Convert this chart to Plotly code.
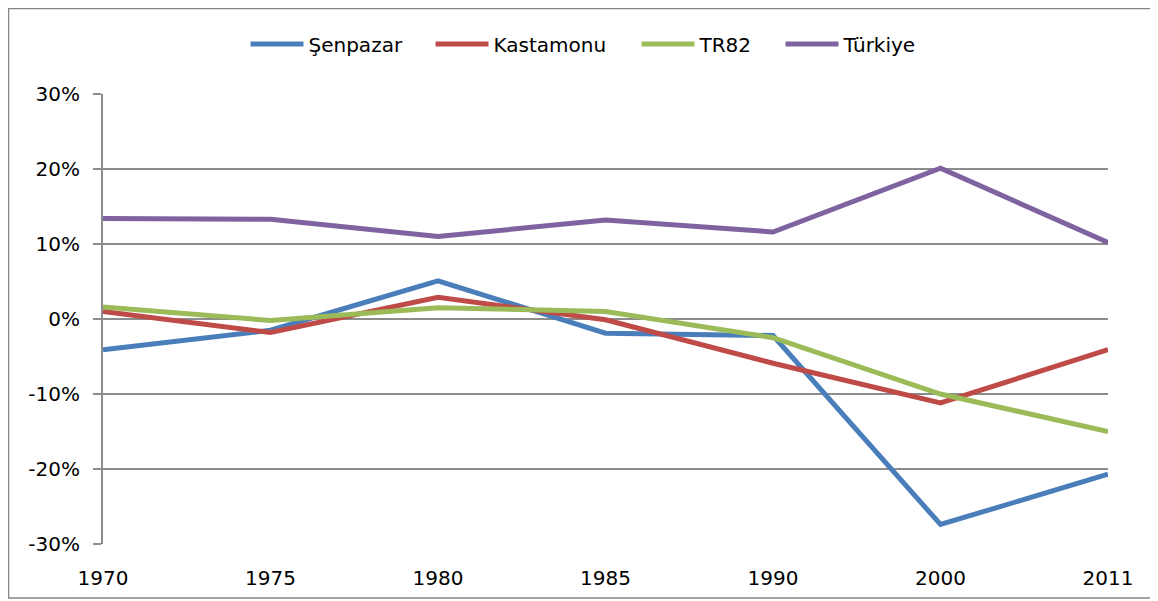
import plotly.graph_objects as go

years = ["1970", "1975", "1980", "1985", "1990", "2000", "2011"]
senpazar = [-0.041, -0.015, 0.051, -0.019, -0.022, -0.274, -0.207]
kastamonu = [0.010, -0.018, 0.029, -0.001, -0.059, -0.112, -0.041]
tr82 = [0.016, -0.002, 0.015, 0.010, -0.025, -0.100, -0.150]
turkiye = [0.134, 0.133, 0.110, 0.132, 0.116, 0.201, 0.102]

y_ticks = [-0.3, -0.2, -0.1, 0.0, 0.1, 0.2, 0.3]
y_labels = ["-30%", "-20%", "-10%", "0%", "10%", "20%", "30%"]

series = [
    ("Şenpazar", senpazar, "#4A7EBB"),
    ("Kastamonu", kastamonu, "#BE4B48"),
    ("TR82", tr82, "#9BBB59"),
    ("Türkiye", turkiye, "#7F62A0"),
]

FONT = "DejaVu Sans"
GRID = "#8C8C8C"

# page body has an 8px margin: shift everything up/left by 8
OFF = 8
W, H = 1158 - OFF, 601 - OFF
L, R, T, B = 103 - OFF, 50, 94 - OFF, 57
pw, ph = W - L - R, H - T - B

legend_names = ["legend", "legend2", "legend3", "legend4"]
legend_starts = [252, 437, 643, 787]  # page x of each legend symbol start
LEG_PAD = 6.5  # internal legend offset before the symbol

fig = go.Figure()
for (name, vals, col), lg in zip(series, legend_names):
    fig.add_trace(go.Scatter(
        x=years, y=vals, name=name, mode="lines", legend=lg,
        line=dict(color=col, width=5),
    ))

layout_legends = {}
for lg, sx in zip(legend_names, legend_starts):
    layout_legends[lg] = dict(
        x=(sx - LEG_PAD - 103) / pw, xanchor="left",
        y=(94 - 44) / ph + 1, yanchor="middle",
        font=dict(family=FONT, size=20), itemwidth=53,
        bgcolor="rgba(0,0,0,0)", borderwidth=0,
    )

fig.update_layout(
    width=W, height=H,
    margin=dict(l=L, r=R, t=T, b=B, autoexpand=False),
    paper_bgcolor="white", plot_bgcolor="white",
    font=dict(family=FONT, size=20, color="black"),
    showlegend=True,
    **layout_legends,
    xaxis=dict(type="category", categoryarray=years, range=[0, 6],
               showgrid=False, showline=False, zeroline=False,
               ticks="", ticklabelstandoff=20,
               tickfont=dict(family=FONT, size=20)),
    xaxis2=dict(overlaying="x", anchor="free", position=0.5,
                type="linear", range=[0, 6], tickvals=list(range(7)),
                showticklabels=False, showgrid=False, zeroline=False,
                showline=True, linecolor=GRID, linewidth=2,
                ticks="outside", ticklen=8, tickcolor=GRID, tickwidth=2,
                layer="below traces"),
    yaxis=dict(range=[-0.3, 0.3], tickmode="array",
               tickvals=y_ticks, ticktext=y_labels,
               showgrid=True, gridcolor=GRID, gridwidth=2,
               zeroline=False, showline=True, linecolor=GRID, linewidth=2,
               ticks="outside", ticklen=8, tickcolor=GRID, tickwidth=2,
               ticklabelstandoff=9,
               tickfont=dict(family=FONT, size=20)),
)

fig.add_shape(type="rect", xref="paper", yref="paper",
              x0=(0.5 - L) / pw, x1=(1155 - OFF - L) / pw,
              y0=(H - B - (598 - OFF)) / ph, y1=(H - B - 0.5) / ph,
              line=dict(color="#868686", width=1.5), layer="below")

fig.write_html("out.html")
